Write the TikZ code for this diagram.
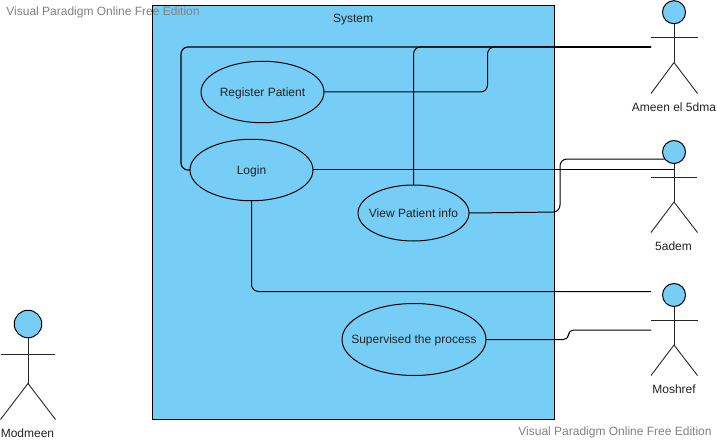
\documentclass[tikz,border=0pt]{standalone}
\usepackage{fontspec}
\setmainfont{Liberation Sans}
\usetikzlibrary{shapes.geometric}
\definecolor{vpblue}{HTML}{76CEF6}
\definecolor{vptext}{HTML}{222222}
\newcommand{\uctext}[1]{\raisebox{-4.3pt}[0pt][0pt]{\makebox[0pt]{#1}}}
\tikzset{
  x=1pt,y=-1pt,
  every node/.style={font=\fontsize{12}{14}\selectfont,text=vptext,inner sep=0pt,outer sep=0pt},
  usecase/.style={ellipse,draw=black,fill=vpblue,line width=1pt,minimum width=#1},
  head/.style={circle,draw=black,fill=vpblue,line width=1pt},
  limb/.style={draw=black!85,line width=.9pt},
  conn/.style={draw=black,line width=1pt,rounded corners=7pt},
  mark text/.style={text=gray}
}
\begin{document}
\begin{tikzpicture}
\useasboundingbox (0,0) rectangle (717,441);
\node[draw=black,fill=vpblue,line width=1pt,minimum width=401.5pt,minimum height=413.5pt,anchor=north west] (sys) at (152.5,5.5) {};
\node (systxt) at (353,19.2) {System};
\node[mark text] (wm1) at (103,12.8) {Visual Paradigm Online Free Edition};
\node[mark text] (wm2) at (615,432) {Visual Paradigm Online Free Edition};

% connector ends
\coordinate (c1) at (651,47);
\coordinate (c2) at (674,169.5);
\coordinate (c3) at (680,159);
\coordinate (c4) at (651,291.5);
\coordinate (c5) at (651,330);

% use cases
\node[usecase=123pt,minimum height=61.5pt] (reg) at (262.5,92) {\uctext{Register Patient}};
\node[usecase=123pt,minimum height=61.5pt] (login) at (251.5,170) {\uctext{Login}};
\node[usecase=111pt,minimum height=56pt] (view) at (413.5,213) {\uctext{View Patient info}};
\node[usecase=144pt,minimum height=72pt] (sup) at (414,339.5) {\uctext{Supervised the process}};

% connectors
\draw[conn,line width=1.2pt] (login.west) -- (181,170) -- (181,47) -- (c1);
\draw[conn] (view.north) -- (413.5,47) -- (c1);
\draw[conn] (reg.east) -- (487.5,92) -- (487.5,47) -- (c1);
\draw[conn,line width=.9pt] (login.east) ++(0,-.5) -- (c2);
\draw[conn] (view.east) -- (560,212) -- (560,159) -- (c3);
\draw[conn] (login.south) -- (251.5,291.5) -- (c4);
\draw[conn,rounded corners=5pt] (sup.east) -- (568.5,339.5) -- (568.5,330) -- (c5);
\draw[black,line width=1.6pt] (554,47) -- (c1);

% actors
\node[head,minimum size=23pt] (a1) at (674,12.2) {};
\coordinate (a1b) at (674,62.5);
\draw[limb] (a1) -- (a1b);
\draw[limb] (651,37.5) coordinate (a1l) -- (697.5,37.5) coordinate (a1r);
\draw[limb] (651,93.5) coordinate (a1f) -- (a1b) -- (697.5,93.5) coordinate (a1g);
\node (a1t) at (674,107.5) {Ameen el 5dma};

\node[head,minimum size=23pt] (a2) at (674,152) {};
\coordinate (a2b) at (674,202);
\draw[limb] (a2) -- (a2b);
\draw[limb] (651,177.5) coordinate (a2l) -- (697,177.5) coordinate (a2r);
\draw[limb] (651,232.5) coordinate (a2f) -- (a2b) -- (697.5,232.5) coordinate (a2g);
\node (a2t) at (673.5,246.5) {5adem};

\node[head,minimum size=23pt] (a3) at (674,295) {};
\coordinate (a3b) at (674,345);
\draw[limb] (a3) -- (a3b);
\draw[limb] (651,320.5) coordinate (a3l) -- (697.5,320.5) coordinate (a3r);
\draw[limb] (651,375.5) coordinate (a3f) -- (a3b) -- (697.5,375.5) coordinate (a3g);
\node (a3t) at (674,389) {Moshref};

\node[head,minimum size=27.5pt] (a4) at (28,324) {};
\coordinate (a4b) at (28,383.5);
\draw[limb] (a4) -- (a4b);
\draw[limb] (1,354) coordinate (a4l) -- (55,354) coordinate (a4r);
\draw[limb] (0.5,419.5) coordinate (a4f) -- (a4b) -- (55.5,419.5) coordinate (a4g);
\node (a4t) at (27.5,433.5) {Modmeen};
\end{tikzpicture}
\end{document}
